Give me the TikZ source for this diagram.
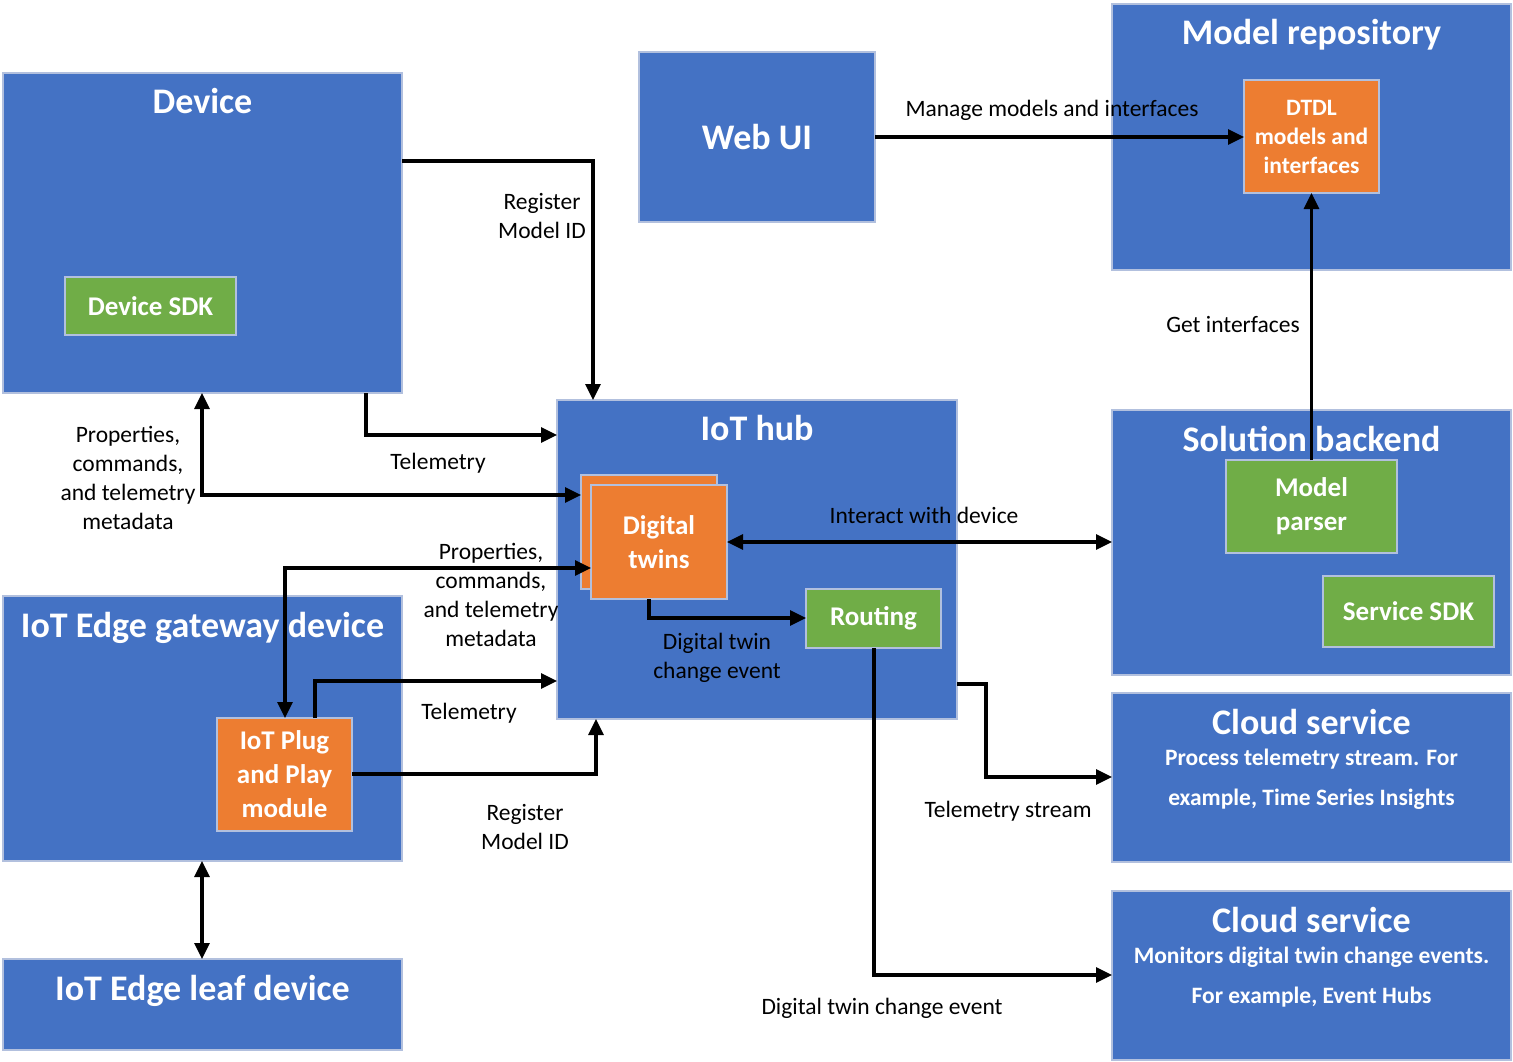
\documentclass[tikz,border=0pt]{standalone}
\usepackage{fontspec}
\setmainfont{Carlito}
\usetikzlibrary{arrows.meta}
\definecolor{cblue}{HTML}{4472C4}
\definecolor{corange}{HTML}{ED7D31}
\definecolor{cgreen}{HTML}{70AD47}
\definecolor{cedge}{RGB}{178,192,222}
\tikzset{
  boxbase/.style={draw=cedge, line width=1.5pt, inner sep=0pt, outer sep=0pt, text=white, align=center},
  bluebox/.style={boxbase, fill=cblue},
  orangebox/.style={boxbase, fill=corange, font=\fontsize{27}{34}\selectfont\bfseries},
  greenbox/.style={boxbase, fill=cgreen, font=\fontsize{27}{34}\selectfont\bfseries},
  boxtitle/.style={text=white, inner sep=0pt, anchor=base, font=\fontsize{36}{43}\selectfont\bfseries},
  subtext/.style={text=white, inner sep=0pt, align=center, font=\fontsize{23.5}{40}\selectfont\bfseries},
  lbl/.style={text=black, inner sep=0pt, align=center, font=\fontsize{23.5}{29}\selectfont},
  tipA/.tip={Triangle[length=16pt,width=15pt]},
  conn/.style={line width=3.2pt, draw=black},
  arr/.style={conn, -tipA},
  darr/.style={conn, tipA-tipA},
}
\begin{document}
\begin{tikzpicture}[x=1pt,y=-1pt]
\useasboundingbox (0,0) rectangle (1513,1062);
% ---- boxes ----
\node[bluebox, minimum width=399pt, minimum height=320pt] (device) at (202.5,233) {};
\node[greenbox, minimum width=171pt, minimum height=58pt] (devsdk) at (150.5,306) {Device SDK};
\node[bluebox, minimum width=236pt, minimum height=170pt, font=\fontsize{36}{43}\selectfont\bfseries] (webui) at (757,137) {Web UI};
\node[bluebox, minimum width=399pt, minimum height=266pt] (modelrepo) at (1311.5,137) {};
\node[orangebox, minimum width=135pt, minimum height=113pt, font=\fontsize{23.5}{29}\selectfont\bfseries] (dtdl) at (1311.5,136.5) {DTDL\\models and\\interfaces};
\node[bluebox, minimum width=400pt, minimum height=319pt] (hub) at (757,559.5) {};
\node[orangebox, minimum width=136pt, minimum height=114pt] (dtback) at (649,532) {};
\node[orangebox, minimum width=136pt, minimum height=114pt] (dtfront) at (659,542) {Digital\\twins};
\node[greenbox, minimum width=135pt, minimum height=59pt] (routing) at (873.5,618.5) {Routing};
\node[bluebox, minimum width=399pt, minimum height=265pt] (solution) at (1311.5,542.5) {};
\node[greenbox, minimum width=171pt, minimum height=93pt] (parser) at (1311.5,506.5) {Model\\parser};
\node[greenbox, minimum width=171pt, minimum height=71pt] (servicesdk) at (1408.5,611.5) {Service SDK};
\node[bluebox, minimum width=399pt, minimum height=169pt] (cloud1) at (1311.5,777.5) {};
\node[bluebox, minimum width=399pt, minimum height=169pt] (cloud2) at (1311.5,975.5) {};
\node[bluebox, minimum width=399pt, minimum height=265pt] (gateway) at (202.5,728.5) {};
\node[orangebox, minimum width=135pt, minimum height=113pt] (pnp) at (284.5,774.5) {IoT Plug\\and Play\\module};
\node[bluebox, minimum width=399pt, minimum height=91pt] (leaf) at (202.5,1004.5) {};
% ---- titles ----
\node[boxtitle] (tdevice) at (202.5,114) {Device};
\node[boxtitle] (trepo) at (1311.5,45) {Model repository};
\node[boxtitle] (thub) at (757,440) {IoT hub};
\node[boxtitle] (tsol) at (1311.5,451) {Solution backend};
\node[boxtitle] (tgate) at (202.5,637) {IoT Edge gateway device};
\node[boxtitle] (tleaf) at (202.5,1000) {IoT Edge leaf device};
\node[boxtitle] (tcloud1) at (1311.5,734) {Cloud service};
\node[boxtitle] (tcloud2) at (1311.5,932) {Cloud service};
\node[subtext] (scloud1) at (1311.5,779) {Process telemetry stream. For\\example, Time Series Insights};
\node[subtext] (scloud2) at (1311.5,977) {Monitors digital twin change events.\\For example, Event Hubs};
% ---- connectors ----
\coordinate (tsbend) at (986,730);
\draw[arr] (device.east |- 0,161) -| (hub.north -| 593,0);
\draw[arr] (device.south -| 366,0) |- (hub.west |- 0,435);
\draw[darr] (device.south -| 202,0) |- (dtback.west |- 0,495);
\draw[darr] (dtfront.west |- 0,568) -| (pnp.north -| 285,0);
\draw[arr] (pnp.north -| 315,0) |- (hub.west |- 0,681);
\draw[arr] (pnp.east |- 0,774) -| (hub.south -| 596,0);
\draw[darr] (gateway.south -| 202,0) -- (leaf.north -| 202,0);
\draw[arr] (webui.east |- 0,137) -- (dtdl.west |- 0,137);
\draw[arr] (parser.north) -- (dtdl.south);
\draw[darr] (dtfront.east |- 0,542) -- (solution.west |- 0,542);
\draw[arr] (dtfront.south -| 649,0) |- (routing.west |- 0,618);
\draw[arr] (hub.east |- 0,684) -| (tsbend) |- (cloud1.west |- 0,777);
\draw[arr] (routing.south -| 874,0) |- (cloud2.west |- 0,975);
% ---- labels ----
\node[lbl] (l1) at (542,216) {Register\\Model ID};
\node[lbl] (l2) at (438,463) {Telemetry};
\node[lbl] (l3) at (128,478) {Properties,\\commands,\\and telemetry\\metadata};
\node[lbl] (l4) at (491,595) {Properties,\\commands,\\and telemetry\\metadata};
\node[lbl] (l5) at (469,713) {Telemetry};
\node[lbl] (l6) at (525,827) {Register\\Model ID};
\node[lbl] (l7) at (1052,110) {Manage models and interfaces};
\node[lbl] (l8) at (1233,325) {Get interfaces};
\node[lbl] (l9) at (924,515) {Interact with device};
\node[lbl] (l10) at (717,658) {Digital twin\\change event};
\node[lbl] (l11) at (1008,811) {Telemetry stream};
\node[lbl] (l12) at (882,1008) {Digital twin change event};
\end{tikzpicture}
\end{document}
